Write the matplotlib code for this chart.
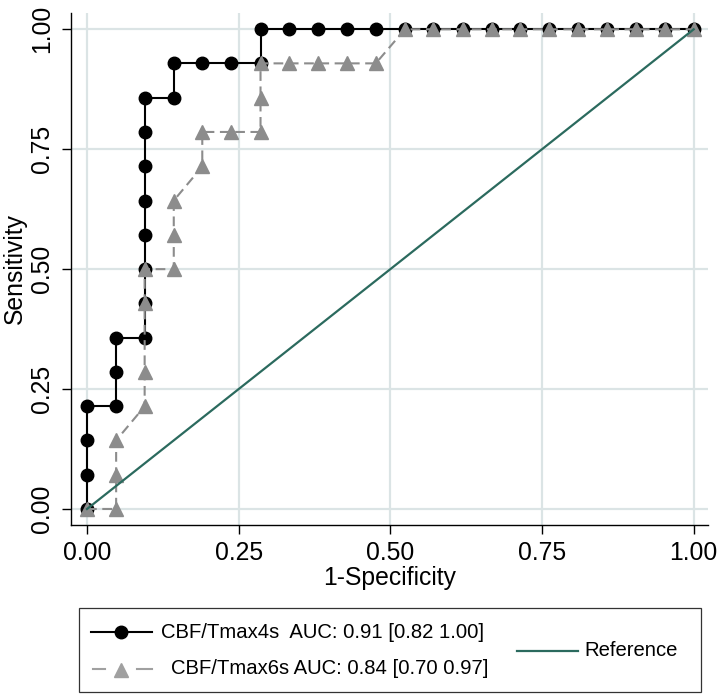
import matplotlib
matplotlib.use('Agg')
import matplotlib.pyplot as plt
from matplotlib.lines import Line2D
from matplotlib.patches import Rectangle

plt.rcParams['font.family'] = ['Liberation Sans', 'DejaVu Sans']
plt.rcParams['lines.scale_dashes'] = False

# ROC points (1-specificity, sensitivity)
fpr_4s = [0.000, 0.000, 0.000, 0.000, 0.048, 0.048, 0.048,
          0.095, 0.095, 0.095, 0.095, 0.095, 0.095, 0.095, 0.095,
          0.143, 0.143, 0.190, 0.238, 0.286, 0.286,
          0.333, 0.381, 0.429, 0.476, 0.524, 0.571, 0.619, 0.667,
          0.714, 0.762, 0.810, 0.857, 0.905, 0.952, 1.000]
tpr_4s = [0.000, 0.071, 0.143, 0.214, 0.214, 0.286, 0.357,
          0.357, 0.429, 0.500, 0.571, 0.643, 0.714, 0.786, 0.857,
          0.857, 0.929, 0.929, 0.929, 0.929, 1.000,
          1.000, 1.000, 1.000, 1.000, 1.000, 1.000, 1.000, 1.000,
          1.000, 1.000, 1.000, 1.000, 1.000, 1.000, 1.000]

fpr_6s = [0.000, 0.048, 0.048, 0.048, 0.095, 0.095, 0.095, 0.095,
          0.143, 0.143, 0.143, 0.190, 0.190, 0.238, 0.286, 0.286, 0.286,
          0.333, 0.381, 0.429, 0.476,
          0.524, 0.571, 0.619, 0.667, 0.714, 0.762, 0.810, 0.857,
          0.905, 0.952, 1.000]
tpr_6s = [0.000, 0.000, 0.071, 0.143, 0.214, 0.286, 0.429, 0.500,
          0.500, 0.571, 0.643, 0.714, 0.786, 0.786, 0.786, 0.857, 0.929,
          0.929, 0.929, 0.929, 0.929,
          1.000, 1.000, 1.000, 1.000, 1.000, 1.000, 1.000, 1.000,
          1.000, 1.000, 1.000]

ref_x = [0.0, 1.0]
ref_y = [0.0, 1.0]

ticks = [0.00, 0.25, 0.50, 0.75, 1.00]
tick_labels = ['0.00', '0.25', '0.50', '0.75', '1.00']

label_4s = 'CBF/Tmax4s  AUC: 0.91 [0.82 1.00]'
label_6s = 'CBF/Tmax6s AUC: 0.84 [0.70 0.97]'
label_ref = 'Reference'

gray = '#8c8c8c'
green = '#2b6a5e'
gridc = '#dbe4e5'

W, H = 723, 698
fig = plt.figure(figsize=(W / 100, H / 100), dpi=100)
ax = fig.add_axes([71 / W, 1 - 525 / H, (708 - 71) / W, (525 - 13) / H])

ax.plot(fpr_4s, tpr_4s, color='black', lw=1.5, marker='o', ms=9, zorder=3)
ax.plot(fpr_6s, tpr_6s, color=gray, lw=1.5, dashes=(7, 4), marker='^', ms=10.5,
        zorder=4)
ax.plot(ref_x, ref_y, color=green, lw=1.6, zorder=5)

ax.set_xlim(-0.0264, 1.0236)
ax.set_ylim(-0.0334, 1.034)
ax.set_xticks(ticks)
ax.set_xticklabels(tick_labels)
ax.set_yticks(ticks)
ax.set_yticklabels(tick_labels, rotation=90, va='center')
ax.grid(True, color=gridc, lw=1.6)
ax.set_axisbelow(True)
for s in ['top', 'right']:
    ax.spines[s].set_visible(False)
for s in ['left', 'bottom']:
    ax.spines[s].set_linewidth(1.0)
ax.tick_params(length=6.5, width=1.0, labelsize=17.8, pad=5)
ax.tick_params(axis='y', pad=6)
ax.set_xlabel('1-Specificity', fontsize=17.8, labelpad=0.5)
ax.set_ylabel('Sensitivity', fontsize=17.8, labelpad=2)


def fx(px):
    return px / W


def fy(py):
    return 1 - py / H


# legend box
fig.add_artist(Rectangle((fx(79), fy(692)), fx(701) - fx(79), (692 - 608) / H,
                         transform=fig.transFigure, fill=False, ec='#333333',
                         lw=0.9))
lfs = 14.6
row1, row2, rowr = 632, 669, 651
fig.add_artist(Line2D([fx(91), fx(152)], [fy(row1)] * 2, color='black', lw=1.5,
                      transform=fig.transFigure))
fig.add_artist(Line2D([fx(121)], [fy(row1)], color='black', marker='o', ms=9,
                      transform=fig.transFigure))
lg = '#a0a0a0'
fig.add_artist(Line2D([fx(93), fx(105)], [fy(row2)] * 2, color=lg, lw=1.5,
                      transform=fig.transFigure))
fig.add_artist(Line2D([fx(137), fx(152)], [fy(row2)] * 2, color=lg, lw=1.5,
                      transform=fig.transFigure))
fig.add_artist(Line2D([fx(121)], [fy(row2 + 1)], color=lg, marker='^',
                      ms=10.5, transform=fig.transFigure))
fig.text(fx(161), fy(row1), label_4s, fontsize=lfs, va='center', ha='left')
fig.text(fx(171), fy(row2), label_6s, fontsize=lfs, va='center', ha='left')
fig.add_artist(Line2D([fx(517), fx(578)], [fy(rowr)] * 2, color=green, lw=1.6,
                      transform=fig.transFigure))
fig.text(fx(584), fy(rowr), label_ref, fontsize=lfs, va='center', ha='left')

fig.savefig('out.png', dpi=100)
